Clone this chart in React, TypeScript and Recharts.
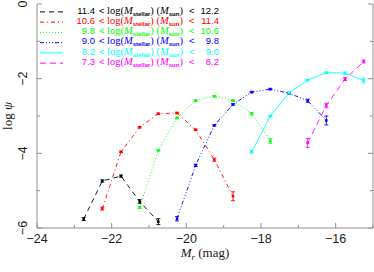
import React from 'react';
import { LineChart, Line, XAxis, YAxis, ErrorBar } from 'recharts';

// ---- data ----
const blackX = [-22.75, -22.25, -21.75, -21.25, -20.75];
const blackY = [-5.76, -4.74, -4.61, -5.29, -5.83];
const blackErr = [0.04, 0.03, 0.03, 0.05, 0.08];

const redX = [-22.25, -21.75, -21.25, -20.75, -20.25, -19.75, -19.25, -18.75];
const redY = [-5.48, -3.96, -3.3, -2.94, -2.92, -3.37, -4.17, -5.15];
const redErr = [0.04, 0.02, 0.02, 0.02, 0.02, 0.02, 0.04, 0.12];

const greenX = [-21.25, -20.75, -20.25, -19.75, -19.25, -18.75, -18.25, -17.75];
const greenY = [-5.45, -3.92, -3.05, -2.59, -2.47, -2.59, -2.94, -3.67];
const greenErr = [0.03, 0.02, 0.02, 0.02, 0.02, 0.02, 0.03, 0.06];

const blueX = [-20.25, -19.75, -19.25, -18.75, -18.25, -17.75, -17.25, -16.75, -16.25];
const blueY = [-5.75, -4.32, -3.25, -2.69, -2.36, -2.28, -2.39, -2.59, -3.12];
const blueErr = [0.06, 0.03, 0.02, 0.02, 0.02, 0.02, 0.02, 0.04, 0.12];

const cyanX = [-18.25, -17.75, -17.25, -16.75, -16.25, -15.75, -15.25];
const cyanY = [-3.96, -3.0, -2.38, -2.04, -1.84, -1.85, -2.05];
const cyanErr = [0.03, 0.02, 0.02, 0.02, 0.02, 0.03, 0.06];

const magentaX = [-16.75, -16.25, -15.75, -15.25];
const magentaY = [-3.72, -2.72, -2.01, -1.54];
const magentaErr = [0.12, 0.06, 0.04, 0.04];

const lowBounds = ['11.4', '10.6', '9.8', '9.0', '8.2', '7.3'];
const highBounds = ['12.2', '11.4', '10.6', '9.8', '9.0', '8.2'];

const xTicks = [-24, -23, -22, -21, -20, -19, -18, -17, -16, -15];
const yTicks = [-6, -5, -4, -3, -2, -1, 0];

const FRAME = '#8f8f8f';
const TEXT = '#1a1a1a';
const SANS = '"Liberation Sans", Arial, sans-serif';
const SERIF = '"Liberation Serif", "Times New Roman", serif';

const build = (xs: number[], ys: number[], es: number[]) =>
  xs.map((x, i) => ({ x, y: ys[i], err: es[i] }));

const series = [
  { name: 's1', color: '#000000', dash: '5 4', data: build(blackX, blackY, blackErr) },
  { name: 's2', color: '#ff0000', dash: '4 3 1 3', data: build(redX, redY, redErr) },
  { name: 's3', color: '#00ff00', dash: '1 2', data: build(greenX, greenY, greenErr) },
  { name: 's4', color: '#0000ff', dash: '4 2 1 2 1 2 1 2', data: build(blueX, blueY, blueErr) },
  { name: 's5', color: '#00ffff', dash: undefined as string | undefined, data: build(cyanX, cyanY, cyanErr) },
  { name: 's6', color: '#ff00ff', dash: '6 4', data: build(magentaX, magentaY, magentaErr) },
];

const fmt = (v: number) => (v < 0 ? '\u2212' + Math.abs(v) : String(v));

const BottomTick = (props: any) => {
  const { x, y, payload } = props;
  const v = payload.value;
  const major = Math.round(v) % 2 === 0;
  return (
    <g>
      <line x1={x} x2={x} y1={y} y2={y - (major ? 5 : 3)} stroke={FRAME} />
      {major && (
        <text x={x} y={y + 14.5} textAnchor="middle" fontFamily={SANS} fontSize={12.5} fill={TEXT}>
          {fmt(v)}
        </text>
      )}
    </g>
  );
};

const TopTick = (props: any) => {
  const { x, y, payload } = props;
  const major = Math.round(payload.value) % 2 === 0;
  return <line x1={x} x2={x} y1={y} y2={y + (major ? 5 : 3)} stroke={FRAME} />;
};

const LeftTick = (props: any) => {
  const { x, y, payload } = props;
  const v = payload.value;
  const major = Math.round(v) % 2 === 0;
  const tx = x - 10;
  return (
    <g>
      <line x1={x} x2={x + (major ? 5 : 3)} y1={y} y2={y} stroke={FRAME} />
      {major && (
        <text
          x={tx}
          y={y}
          transform={`rotate(-90 ${tx} ${y})`}
          textAnchor="middle"
          fontFamily={SANS}
          fontSize={12.5}
          fill={TEXT}
        >
          {fmt(v)}
        </text>
      )}
    </g>
  );
};

const RightTick = (props: any) => {
  const { x, y, payload } = props;
  const major = Math.round(payload.value) % 2 === 0;
  return <line x1={x} x2={x - (major ? 5 : 3)} y1={y} y2={y} stroke={FRAME} />;
};

const XLabel = (props: any) => {
  const vb = props.viewBox || {};
  const cx = vb.x + vb.width / 2;
  const by = vb.y + 29;
  return (
    <text x={cx} y={by} textAnchor="middle" fontFamily={SERIF} fontSize={13} fill={TEXT}>
      <tspan fontStyle="italic">M</tspan>
      <tspan fontStyle="italic" fontSize={9} dy={3}>r</tspan>
      <tspan dy={-3}>{' (mag)'}</tspan>
    </text>
  );
};

const YLabel = (props: any) => {
  const vb = props.viewBox || {};
  const lx = 12;
  const cy = vb.y + vb.height / 2;
  return (
    <text
      x={lx}
      y={cy}
      transform={`rotate(-90 ${lx} ${cy})`}
      textAnchor="middle"
      fontFamily={SERIF}
      fontSize={13}
      fill={TEXT}
    >
      log <tspan fontStyle="italic">ψ</tspan>
    </text>
  );
};

const LegendBox = () => (
  <svg width={374} height={72} style={{ display: 'block' }}>
    {series.map((s, i) => {
      const by = 13.7 + 10.25 * i;
      const ly = by - 1.8;
      return (
        <g key={s.name}>
          <line x1={40} x2={63} y1={ly} y2={ly} stroke={s.color} strokeWidth={1} strokeDasharray={s.dash} />
          <text x={95} y={by} textAnchor="end" fontFamily={SANS} fontSize={9.5} fill={s.color}>
            {lowBounds[i]}
          </text>
          <text x={99} y={by} fontFamily={SANS} fontSize={9.5} fill={s.color}>{'<'}</text>
          <text x={107} y={by} fontFamily={SERIF} fontSize={10.5} fill={s.color}>
            log(<tspan fontStyle="italic">M</tspan>
            <tspan fontSize={6} dy={2} fontFamily={SANS} fontWeight="bold">stellar</tspan>
            <tspan dy={-2}>) (</tspan>
            <tspan fontStyle="italic">M</tspan>
            <tspan fontSize={6} dy={2} fontFamily={SANS} fontWeight="bold">sun</tspan>
            <tspan dy={-2}>)</tspan>
          </text>
          <text x={189} y={by} fontFamily={SANS} fontSize={9.5} fill={s.color}>{'<'}</text>
          <text x={219} y={by} textAnchor="end" fontFamily={SANS} fontSize={9.5} fill={s.color}>
            {highBounds[i]}
          </text>
        </g>
      );
    })}
  </svg>
);

const makeDot = (color: string) => (p: any) => {
  const { cx, cy, index } = p;
  if (cx == null || cy == null) return <g key={`d${index}`} />;
  return <rect key={`d${index}`} x={cx - 1.25} y={cy - 1.25} width={2.5} height={2.5} fill={color} />;
};

export default function App() {
  return (
    <div style={{ position: 'absolute', left: 0, top: 0, width: 374, height: 272, background: '#fff' }}>
      <LineChart width={374} height={272} margin={{ top: 4, right: 0, bottom: 0, left: 0 }}>
        <XAxis
          xAxisId="b"
          type="number"
          dataKey="x"
          domain={[-24, -15]}
          ticks={xTicks}
          allowDataOverflow
          height={44}
          tickSize={0}
          tickMargin={0}
          tickLine={false}
          axisLine={{ stroke: FRAME }}
          tick={<BottomTick />}
          interval={0}
          label={<XLabel />}
        />
        <XAxis
          xAxisId="t"
          orientation="top"
          type="number"
          dataKey="x"
          domain={[-24, -15]}
          ticks={xTicks}
          allowDataOverflow
          height={0}
          tickSize={0}
          tickMargin={0}
          tickLine={false}
          axisLine={{ stroke: FRAME }}
          tick={<TopTick />}
          interval={0}
        />
        <YAxis
          yAxisId="l"
          type="number"
          domain={[-6, 0]}
          ticks={yTicks}
          allowDataOverflow
          width={37}
          tickSize={0}
          tickMargin={0}
          tickLine={false}
          axisLine={{ stroke: FRAME }}
          tick={<LeftTick />}
          interval={0}
          label={<YLabel />}
        />
        <YAxis
          yAxisId="r"
          orientation="right"
          type="number"
          domain={[-6, 0]}
          ticks={yTicks}
          allowDataOverflow
          width={1}
          tickSize={0}
          tickMargin={0}
          tickLine={false}
          axisLine={{ stroke: FRAME }}
          tick={<RightTick />}
          interval={0}
        />
        {series.map((s) => (
          <Line
            key={s.name}
            xAxisId="b"
            yAxisId="l"
            data={s.data}
            dataKey="y"
            name={s.name}
            stroke={s.color}
            strokeWidth={0.9}
            strokeDasharray={s.dash}
            dot={makeDot(s.color)}
            activeDot={false}
            isAnimationActive={false}
          >
            <ErrorBar dataKey="err" direction="y" width={2} stroke={s.color} strokeWidth={0.9} isAnimationActive={false} />
          </Line>
        ))}
      </LineChart>
      <div style={{ position: 'absolute', left: 0, top: 0, pointerEvents: 'none' }}>
        <LegendBox />
      </div>
    </div>
  );
}
